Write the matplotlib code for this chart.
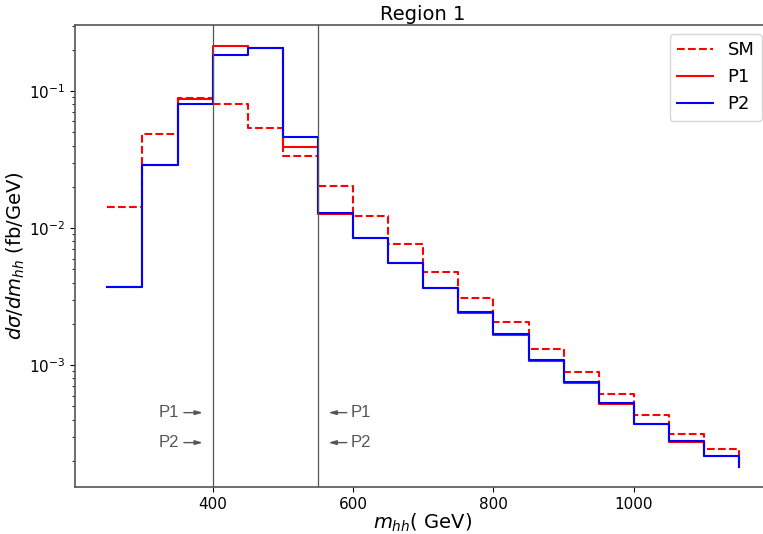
import matplotlib.pyplot as plt
import numpy as np

# bin edges in m_hh (GeV); last entry repeats the step end value
edges = list(range(250, 1151, 50))

sm = [0.0143, 0.049, 0.089, 0.080, 0.054, 0.0336, 0.0204, 0.0123, 0.00764,
      0.0048, 0.0031, 0.00207, 0.00131, 0.00089, 0.000614, 0.00043,
      0.000317, 0.000245, 0.000222]
p1 = [0.00372, 0.0287, 0.087, 0.213, 0.206, 0.0389, 0.0126, 0.0084, 0.00553,
      0.00364, 0.00241, 0.00167, 0.00108, 0.00074, 0.00052, 0.000372,
      0.000277, 0.000217, 0.00018]
p2 = [0.00374, 0.0289, 0.081, 0.184, 0.205, 0.0465, 0.0129, 0.00848, 0.00558,
      0.00367, 0.00244, 0.00169, 0.00109, 0.000747, 0.000525, 0.000375,
      0.000279, 0.000219, 0.000182]

cuts = [400, 550]
labels = ['P1', 'P2']
label_y = [4.5e-4, 2.72e-4]

fig = plt.figure(figsize=(7.63, 5.34), dpi=100)
ax = fig.add_axes([0.098, 0.088, 0.912, 0.865])

ax.step(edges, sm, where='post', color='red', linestyle='--', linewidth=1.5, label='SM')
ax.step(edges, p1, where='post', color='red', linewidth=1.5, label='P1')
ax.step(edges, p2, where='post', color='blue', linewidth=1.5, label='P2')

for c in cuts:
    ax.axvline(c, color='#555555', linewidth=0.9)

# arrows marking the mass window
arrow = dict(arrowstyle='-|>,head_length=0.45,head_width=0.13', color='#555555',
             lw=1.0, shrinkA=0, shrinkB=0)
for lab, yv in zip(labels, label_y):
    ax.annotate('', xy=(386, yv), xytext=(359, yv), arrowprops=arrow)
    ax.text(352, yv, lab, ha='right', va='center', fontsize=12,
            color='#555555', family='Liberation Sans')
    ax.annotate('', xy=(565, yv), xytext=(591, yv), arrowprops=arrow)
    ax.text(597, yv, lab, ha='left', va='center', fontsize=12,
            color='#555555', family='Liberation Sans')

ax.set_yscale('log')
ax.set_xlim(203.5, 1195)
ax.set_ylim(1.29e-4, 0.303)
ax.set_xticks([400, 600, 800, 1000])
ax.tick_params(labelsize=11)

for s in ax.spines.values():
    s.set_color('#555555')
    s.set_linewidth(1.2)

ax.set_title('Region 1', fontsize=14, pad=4)
ax.set_xlabel(r'$m_{hh}$( GeV)', fontsize=14, labelpad=0)
ax.set_ylabel(r'$d\sigma/dm_{hh}$ (fb/GeV)', fontsize=14, labelpad=1)

ax.legend(loc='upper right', fontsize=13, handlelength=2.0, borderaxespad=0.5)

fig.savefig('out.png', dpi=100)
